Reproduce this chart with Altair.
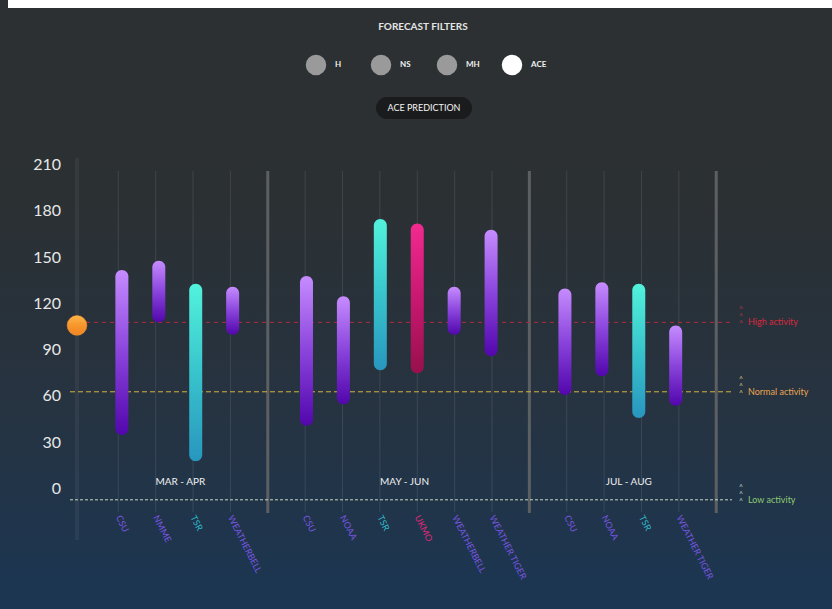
import altair as alt
import pandas as pd

W, H = 832, 609

# ---------------- data ----------------
groups = ["MAR - APR", "MAY - JUN", "JUL - AUG"]
sources_g1 = ["CSU", "NMME", "TSR", "WEATHERBELL"]
low_g1 = [35, 108, 18, 100]
high_g1 = [142, 148, 133, 131]
sources_g2 = ["CSU", "NOAA", "TSR", "UKMO", "WEATHERBELL", "WEATHER TIGER"]
low_g2 = [41, 55, 77, 75, 100, 86]
high_g2 = [138, 125, 175, 172, 131, 168]
sources_g3 = ["CSU", "NOAA", "TSR", "WEATHER TIGER"]
low_g3 = [61, 73, 46, 54]
high_g3 = [130, 134, 133, 106]

y_ticks = [0, 30, 60, 90, 120, 150, 180, 210]
threshold_names = ["High activity", "Normal activity", "Low activity"]
threshold_values = [108, 63, -7]
ace_value = 106
filters = ["H", "NS", "MH", "ACE"]

# ---------------- styling ----------------
FONT = "Lato"
kind_of = {"TSR": "cyan", "UKMO": "pink"}
label_color = {"purple": "#7a55e0", "cyan": "#2fb8c8", "pink": "#e2287a"}
grad = {
    "purple": ["#c68cff", "#8a44dc", "#5206ac"],
    "cyan": ["#52f2dc", "#38c4cc", "#2896bf"],
    "pink": ["#f22a90", "#c81870", "#98104c"],
}
thr_color = ["#d8283e", "#e9a552", "#8fca72"]
thr_line = ["#b8283a", "#d9b43c", "#c8d8c0"]
thr_caret = ["#b03848", "#d8c478", "#b8d0b8"]
thr_dash = [[4, 4], [5, 3], [3, 2]]

# slot geometry (x in slot units)
S0, SW = 118.3, 37.37
xdom = [(0 - S0) / SW, (W - S0) / SW]
# y geometry: value -> pixel 489 - 1.543 v
Y0, YK = 489.0, 1.543
ydom = [(Y0 - H) / YK, Y0 / YK]
xs = alt.Scale(domain=xdom, nice=False, zero=False)
ys = alt.Scale(domain=ydom, nice=False, zero=False)

rows, seps, glabels = [], [], []
s = 0
for g, (srcs, lo, hi) in zip(groups, [(sources_g1, low_g1, high_g1),
                                      (sources_g2, low_g2, high_g2),
                                      (sources_g3, low_g3, high_g3)]):
    start = s
    for name, l, h in zip(srcs, lo, hi):
        k = kind_of.get(name, "purple")
        rows.append({"slot": s, "source": name, "low": l, "high": h,
                     "kind": k, "lcolor": label_color[k], "group": g})
        s += 1
    glabels.append({"slot": (start + s - 1) / 2 + 0.16, "group": g})
    seps.append({"slot": s})
    s += 1

bars = pd.DataFrame(rows)
sepdf = pd.DataFrame(seps)
gdf = pd.DataFrame(glabels)
one = pd.DataFrame({"a": [0]})


def lg(stops):
    n = len(stops)
    return alt.LinearGradient(
        gradient="linear", x1=0, x2=0, y1=0, y2=1,
        stops=[alt.GradientStop(color=c, offset=i / (n - 1)) for i, c in enumerate(stops)])


layers = []

# background
layers.append(alt.Chart(one).mark_rect(
    fill=lg(["#2c3032", "#2b3033", "#263341", "#1b3653"])).encode(
    x=alt.value(0), x2=alt.value(W), y=alt.value(0), y2=alt.value(H)))
layers.append(alt.Chart(one).mark_rect(fill="#ffffff").encode(
    x=alt.value(8), x2=alt.value(W), y=alt.value(0), y2=alt.value(8)))

# column lines
layers.append(alt.Chart(bars).mark_rule(color="#ffffff", opacity=0.1, strokeWidth=1).encode(
    x=alt.X("slot:Q", scale=xs, axis=None), y=alt.value(171), y2=alt.value(512)))
layers.append(alt.Chart(one).mark_rule(color="#ffffff", opacity=0.05, strokeWidth=4).encode(
    x=alt.value(77), y=alt.value(158), y2=alt.value(540)))
# separators
layers.append(alt.Chart(sepdf).mark_rule(color="#5c6062", strokeWidth=3).encode(
    x=alt.X("slot:Q", scale=xs, axis=None), y=alt.value(171), y2=alt.value(513)))

# threshold lines
for i in range(3):
    tdf = pd.DataFrame({"v": [threshold_values[i]], "name": [threshold_names[i]]})
    layers.append(alt.Chart(tdf).mark_rule(color=thr_line[i], strokeWidth=1,
                                           strokeDash=thr_dash[i]).encode(
        y=alt.Y("v:Q", scale=ys, axis=None), x=alt.value(70), x2=alt.value(732)))
    layers.append(alt.Chart(tdf).mark_text(font=FONT, fontSize=9, align="left",
                                           baseline="middle", color=thr_color[i]).encode(
        y=alt.Y("v:Q", scale=ys, axis=None), x=alt.value(748), text="name:N"))
    for dy in (-16, -9, -2):
        layers.append(alt.Chart(tdf).mark_text(font=FONT, fontSize=7, align="center",
                                               baseline="top", dy=dy,
                                               color=thr_caret[i]).encode(
            y=alt.Y("v:Q", scale=ys, axis=None), x=alt.value(741), text=alt.value("^")))

# bars
for k in ["purple", "cyan", "pink"]:
    layers.append(alt.Chart(bars).transform_filter(alt.datum.kind == k).mark_bar(
        width=13, cornerRadius=6.5, fill=lg(grad[k])).encode(
        x=alt.X("slot:Q", scale=xs, axis=None),
        y=alt.Y("low:Q", scale=ys, axis=None), y2="high:Q"))

# ACE dot
adf = pd.DataFrame({"v": [ace_value]})
layers.append(alt.Chart(adf).mark_point(filled=True, shape="circle", size=390, opacity=1,
                                        fill=lg(["#fdb64a", "#f7962c", "#f08422"]),
                                        stroke="#f59a30", strokeWidth=0.5).encode(
    y=alt.Y("v:Q", scale=ys, axis=None), x=alt.value(77)))

# y tick labels
tdf2 = pd.DataFrame({"v": y_ticks})
layers.append(alt.Chart(tdf2).mark_text(font=FONT, fontSize=16, align="right",
                                        baseline="middle", color="#e6e8e8").encode(
    y=alt.Y("v:Q", scale=ys, axis=None), x=alt.value(61), text="v:Q"))

# group labels
layers.append(alt.Chart(gdf).mark_text(font=FONT, fontSize=10, align="center",
                                       baseline="middle", color="#f0f0f0").encode(
    x=alt.X("slot:Q", scale=xs, axis=None), y=alt.value(482), text="group:N"))

# source labels
layers.append(alt.Chart(bars).mark_text(font=FONT, fontSize=9, align="left",
                                        baseline="middle", angle=63).encode(
    x=alt.X("slot:Q", scale=xs, axis=None), y=alt.value(516), text="source:N",
    color=alt.Color("lcolor:N", scale=None)))

# top controls
layers.append(alt.Chart(one).mark_text(font=FONT, fontSize=10, fontWeight="bold",
                                       color="#e4e4e4", align="center", baseline="middle").encode(
    x=alt.value(423), y=alt.value(27), text=alt.value("FORECAST FILTERS")))
fdf = pd.DataFrame({"name": filters, "cx": [316, 381, 447, 512],
                    "fill": ["#9a9a9a", "#9a9a9a", "#9a9a9a", "#ffffff"]})
layers.append(alt.Chart(fdf).mark_circle(size=420, opacity=1).encode(
    x=alt.X("cx:Q", scale=alt.Scale(domain=[0, W], nice=False, zero=False), axis=None),
    y=alt.value(65), color=alt.Color("fill:N", scale=None)))
layers.append(alt.Chart(fdf).mark_text(font=FONT, fontSize=8, fontWeight="bold",
                                       color="#f0f0f0", align="left", baseline="middle",
                                       dx=19).encode(
    x=alt.X("cx:Q", scale=alt.Scale(domain=[0, W], nice=False, zero=False), axis=None),
    y=alt.value(65), text="name:N"))
layers.append(alt.Chart(one).mark_rect(fill="#1a1b1c", cornerRadius=11).encode(
    x=alt.value(376), x2=alt.value(472), y=alt.value(97), y2=alt.value(119)))
layers.append(alt.Chart(one).mark_text(font=FONT, fontSize=9, color="#f4f4f4",
                                       align="center", baseline="middle").encode(
    x=alt.value(424), y=alt.value(108), text=alt.value("ACE PREDICTION")))

chart = alt.layer(*layers).resolve_scale(x="independent").properties(
    width=W, height=H, padding=0,
    autosize=alt.AutoSizeParams(type="none"),
    background="#1e2b38",
).configure_view(stroke=None)

chart.save("out.html", embed_options={"renderer": "svg", "actions": False})
